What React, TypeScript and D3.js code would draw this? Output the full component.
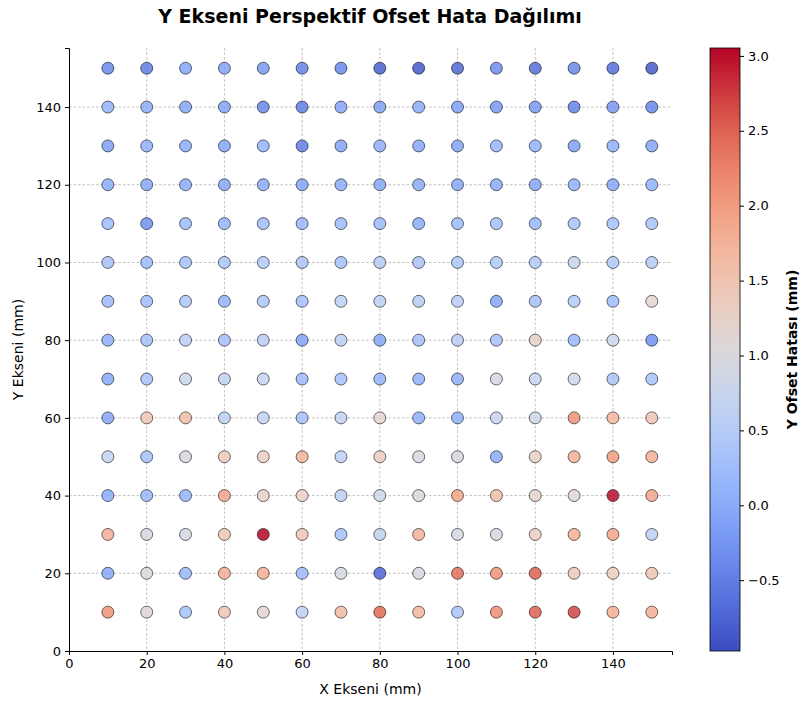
import React, { useEffect, useRef } from 'react';
import * as d3 from 'd3';

const xs = [10, 20, 30, 40, 50, 60, 70, 80, 90, 100, 110, 120, 130, 140, 150];
const ys = [150, 140, 130, 120, 110, 100, 90, 80, 70, 60, 50, 40, 30, 20, 10];

// offset error per row (top row y=150 first), columns x=10..150
const errors = [
  [-0.4, -0.5, -0.1, -0.1, -0.2, -0.45, -0.4, -0.8, -0.85, -0.7, -0.35, -0.65, -0.4, -0.65, -0.85],
  [0.1, 0.0, -0.05, -0.1, -0.4, -0.5, -0.1, -0.15, 0.0, -0.15, -0.2, -0.2, -0.45, -0.25, -0.4],
  [-0.15, 0.05, 0.0, -0.1, 0.1, -0.5, -0.1, 0.05, -0.05, -0.1, 0.15, 0.1, -0.15, 0.05, -0.1],
  [0.0, -0.05, 0.0, -0.05, 0.0, -0.1, 0.0, -0.05, 0.0, -0.05, 0.0, -0.05, 0.05, -0.05, 0.1],
  [0.2, -0.3, 0.2, 0.1, 0.25, 0.15, 0.2, 0.2, 0.0, 0.2, 0.3, 0.15, 0.35, 0.3, 0.35],
  [0.3, 0.2, 0.3, 0.4, 0.45, 0.4, 0.3, 0.5, 0.35, 0.4, 0.45, 0.45, 0.7, 0.45, 0.5],
  [0.2, 0.25, 0.4, 0.1, 0.4, 0.3, 0.6, 0.6, 0.5, 0.55, -0.1, 0.3, 0.45, 0.25, 1.2],
  [0.05, 0.3, 0.55, 0.3, 0.55, -0.1, 0.6, -0.05, 0.3, 0.55, 0.3, 1.25, 0.15, 0.8, -0.3],
  [-0.05, 0.3, 0.8, 0.65, 0.7, 0.2, 0.3, 0.1, 0.05, 0.05, 0.9, 0.7, 0.85, 0.35, 0.35],
  [-0.1, 1.5, 1.6, 0.6, 0.65, 0.3, 0.65, 1.2, 0.05, 0.05, 0.7, 0.85, 2.1, 1.7, 1.5],
  [0.65, 0.3, 0.95, 1.4, 1.35, 1.75, 0.6, 1.35, 0.95, 0.95, 0.0, 1.3, 1.8, 2.0, 1.8],
  [0.0, 0.15, 0.1, 1.9, 1.25, 1.3, 0.6, 0.85, 1.0, 1.9, 1.6, 1.2, 1.1, 3.0, 1.9],
  [1.8, 0.95, 0.9, 1.45, 3.05, 1.5, 0.3, 0.65, 1.75, 0.9, 0.95, 1.35, 1.8, 1.9, 0.6],
  [-0.05, 1.0, 0.15, 1.8, 1.8, 0.2, 0.95, -0.75, 0.95, 2.4, 2.1, 2.5, 1.45, 1.35, 1.5],
  [2.1, 1.1, 0.3, 1.5, 1.15, 0.6, 1.65, 2.45, 1.7, 0.4, 2.15, 2.5, 2.7, 1.8, 1.8],
];

const axisTicks = [0, 20, 40, 60, 80, 100, 120, 140];
const cbarTicks = [-0.5, 0.0, 0.5, 1.0, 1.5, 2.0, 2.5, 3.0];
const coolwarm = ['#3b4cc0', '#6282ea', '#8db0fe', '#b8d0f9', '#dddddd', '#f5c4ad', '#f49a7b', '#de604d', '#b40426'];

const App = () => {
  const ref = useRef<SVGSVGElement>(null);

  useEffect(() => {
    const svg = d3.select(ref.current);
    svg.selectAll('*').remove();
    const font = 'DejaVu Sans, sans-serif';

    const left = 69, top = 48, size = 603;
    const x = d3.scaleLinear().domain([0, 155.2]).range([left, left + size]);
    const y = d3.scaleLinear().domain([0, 155.2]).range([top + size, top]);
    const vmin = -0.973, vmax = 3.053;
    const interp = d3.interpolateRgbBasis(coolwarm);
    const color = (v: number) => interp((v - vmin) / (vmax - vmin));

    svg.append('text')
      .attr('x', 370).attr('y', 23)
      .attr('text-anchor', 'middle')
      .style('font-family', font).style('font-size', '19px').style('font-weight', 'bold')
      .text('Y Ekseni Perspektif Ofset Hata Dağılımı');

    // grid
    const grid = svg.append('g');
    axisTicks.slice(1).forEach(t => {
      grid.append('line').attr('x1', x(t)).attr('x2', x(t)).attr('y1', top).attr('y2', top + size);
      grid.append('line').attr('y1', y(t)).attr('y2', y(t)).attr('x1', left).attr('x2', left + size);
    });
    grid.selectAll('line')
      .attr('stroke', '#b0b0b0').attr('stroke-width', 0.8).attr('stroke-dasharray', '2.5,2');

    // points
    const pts: { x: number; y: number; v: number }[] = [];
    ys.forEach((yy, i) => xs.forEach((xx, j) => pts.push({ x: xx, y: yy, v: errors[i][j] })));
    svg.append('g').selectAll('circle')
      .data(pts)
      .enter()
      .append('circle')
      .attr('cx', d => x(d.x))
      .attr('cy', d => y(d.y))
      .attr('r', 6)
      .attr('fill', d => color(d.v))
      .attr('fill-opacity', 0.85)
      .attr('stroke', '#000')
      .attr('stroke-opacity', 0.7)
      .attr('stroke-width', 0.8);

    // axes
    const xAxis = svg.append('g').attr('transform', `translate(0,${top + size})`)
      .call(d3.axisBottom(x).tickValues(axisTicks).tickSize(4).tickPadding(4));
    const yAxis = svg.append('g').attr('transform', `translate(${left},0)`)
      .call(d3.axisLeft(y).tickValues(axisTicks).tickSize(4).tickPadding(4));
    [xAxis, yAxis].forEach(a => {
      a.selectAll('text').style('font-family', font).style('font-size', '13px').attr('fill', '#000');
      a.selectAll('line').attr('stroke', '#000');
      a.select('.domain').attr('stroke', '#000').attr('stroke-width', 1);
    });

    svg.append('text')
      .attr('x', x(77.6)).attr('y', 694)
      .attr('text-anchor', 'middle')
      .style('font-family', font).style('font-size', '14px')
      .text('X Ekseni (mm)');
    svg.append('text')
      .attr('transform', `translate(23,${top + size / 2}) rotate(-90)`)
      .attr('text-anchor', 'middle')
      .style('font-family', font).style('font-size', '14px')
      .text('Y Ekseni (mm)');

    // colorbar
    const cbX = 710, cbW = 30;
    const cb = d3.scaleLinear().domain([vmin, vmax]).range([top + size, top]);
    const defs = svg.append('defs');
    const grad = defs.append('linearGradient').attr('id', 'cw')
      .attr('x1', 0).attr('x2', 0).attr('y1', 1).attr('y2', 0);
    d3.range(0, 1.0001, 0.05).forEach(t => {
      grad.append('stop').attr('offset', t).attr('stop-color', interp(t));
    });
    svg.append('rect')
      .attr('x', cbX).attr('y', top).attr('width', cbW).attr('height', size)
      .attr('fill', 'url(#cw)').attr('stroke', '#000').attr('stroke-width', 0.8);
    const cAxis = svg.append('g').attr('transform', `translate(${cbX + cbW},0)`)
      .call(d3.axisRight(cb).tickValues(cbarTicks).tickSize(4).tickPadding(4)
        .tickFormat(d => d3.format('.1f')(d as number).replace('-', '\u2212')));
    cAxis.select('.domain').remove();
    cAxis.selectAll('text').style('font-family', font).style('font-size', '13px').attr('fill', '#000');
    cAxis.selectAll('line').attr('stroke', '#000');

    svg.append('text')
      .attr('transform', `translate(797,${top + size / 2}) rotate(-90)`)
      .attr('text-anchor', 'middle')
      .style('font-family', font).style('font-size', '14px').style('font-weight', 'bold')
      .text('Y Ofset Hatası (mm)');
  }, []);

  return (
    <div style={{ position: 'absolute', left: 0, top: 0 }}>
      <svg ref={ref} width={802} height={705} style={{ display: 'block', background: '#fff' }} />
    </div>
  );
};

export default App;
